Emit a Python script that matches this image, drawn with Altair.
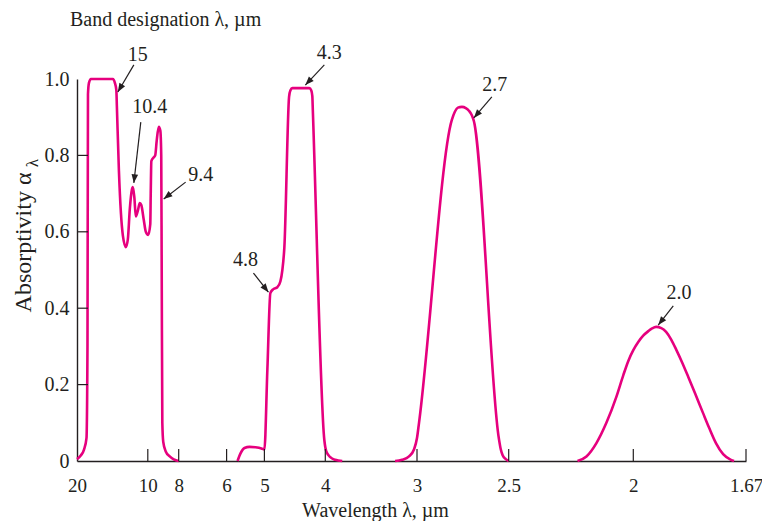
import altair as alt
import pandas as pd

# ---- axis ticks (wavelength in micrometres) ----
tick_wl = [20, 10, 8, 6, 5, 4, 3, 2.5, 2, 1.67]
tick_pos = [0, 70.8, 101.7, 149.6, 187.4, 248.3, 340, 431.7, 556.3, 669]   # scale range breakpoints
x_minor = [10, 8, 6, 5, 4, 3, 2.5, 2, 1.67]
y_vals = [0, 0.2, 0.4, 0.6, 0.8, 1.0]
y_minor = [0.2, 0.4, 0.6, 0.8]

# ---- absorption bands (wavelength um, absorptivity) ----
band15_wl = [20, 19.44, 19.01, 18.66, 18.52, 18.45, 18.31, 18.03, 14.93, 14.65, 14.44, 14.37,
             14.08, 13.80, 13.52, 13.10, 12.82, 12.54, 12.25, 12.11, 11.90, 11.69, 11.41, 11.13,
             10.92, 10.56, 10.28, 9.97, 9.84, 9.81, 9.77, 9.61, 9.52, 9.42, 9.29, 9.19,
             9.13, 9.10, 9.06, 9.00, 8.84, 8.58, 8.32, 8.0]
band15_a = [0.005, 0.015, 0.03, 0.06, 0.3, 0.96, 0.99, 1.0, 1.0, 0.99, 0.97, 0.93,
            0.76, 0.65, 0.59, 0.56, 0.58, 0.66, 0.71, 0.717, 0.69, 0.64, 0.655, 0.675,
            0.67, 0.63, 0.60, 0.592, 0.62, 0.70, 0.785, 0.795, 0.80, 0.84, 0.875, 0.865,
            0.80, 0.5, 0.1, 0.05, 0.025, 0.012, 0.004, 0.0]

band43_wl = [5.711, 5.632, 5.526, 5.395, 5.237, 5.079, 5.0, 4.951, 4.902, 4.852, 4.787, 4.738,
             4.705, 4.672, 4.595, 4.574, 4.541, 4.262, 4.230, 4.213, 4.205, 4.016, 3.989, 3.946,
             3.891, 3.815]
band43_a = [0.0, 0.02, 0.034, 0.037, 0.036, 0.033, 0.03, 0.24, 0.44, 0.45, 0.455, 0.47,
            0.50, 0.56, 0.953, 0.97, 0.976, 0.976, 0.97, 0.955, 0.919, 0.055, 0.025, 0.01,
            0.003, 0.0]

band27_wl = [3.239, 3.163, 3.087, 3.033, 3.0, 2.989, 2.810, 2.793, 2.777, 2.755, 2.734, 2.717,
             2.701, 2.690, 2.554, 2.543, 2.533, 2.516, 2.5]
band27_a = [0.0, 0.003, 0.012, 0.03, 0.06, 0.10, 0.893, 0.915, 0.925, 0.927, 0.924, 0.917,
            0.905, 0.89, 0.06, 0.03, 0.015, 0.005, 0.0]

band20_wl = [2.224, 2.188, 2.148, 2.108, 2.068, 2.04, 2.02, 2.0, 1.985, 1.971, 1.956, 1.945,
             1.933, 1.918, 1.904, 1.889, 1.874, 1.857, 1.839, 1.816, 1.796, 1.778, 1.758, 1.737,
             1.714, 1.705]
band20_a = [0.0, 0.012, 0.047, 0.1, 0.168, 0.225, 0.262, 0.29, 0.312, 0.328, 0.340, 0.347,
            0.351, 0.348, 0.338, 0.318, 0.291, 0.258, 0.22, 0.17, 0.126, 0.087, 0.047, 0.018,
            0.003, 0.0]

# ---- band designation annotations ----
ann_label = ["15", "10.4", "9.4", "4.8", "4.3", "2.7", "2.0"]
ann_wl = [11.41, 9.87, 7.08, 5.50, 3.957, 2.576, 1.866]
ann_a = [1.063, 0.927, 0.749, 0.526, 1.068, 0.984, 0.44]
arr_from_wl = [11.97, 10.99, 7.71, 5.29, 4.016, 2.592, 1.883]
arr_from_a = [1.037, 0.887, 0.730, 0.492, 1.037, 0.953, 0.406]
arr_to_wl = [14.23, 11.97, 8.97, 4.934, 4.328, 2.690, 1.927]
arr_to_a = [0.966, 0.728, 0.686, 0.442, 0.984, 0.898, 0.356]
arr_angle = [210.6, 186.5, 232.3, 141.7, 223.5, 220.6, 218.3]

FONT = "Liberation Serif"
INK = "#231f20"
MAGENTA = "#E6007E"
FS = 20

rows = []
for name, wl, a in [("15", band15_wl, band15_a), ("4.3", band43_wl, band43_a),
                    ("2.7", band27_wl, band27_a), ("2.0", band20_wl, band20_a)]:
    for i, (w, v) in enumerate(zip(wl, a)):
        rows.append({"band": name, "i": i, "wl": w, "a": v})
curves = pd.DataFrame(rows)

ann = pd.DataFrame({"label": ann_label, "lw": ann_wl, "la": ann_a,
                    "fw": arr_from_wl, "fa": arr_from_a,
                    "tw": arr_to_wl, "ta": arr_to_a, "ang": arr_angle})

xscale = alt.Scale(domain=tick_wl, range=tick_pos)
yscale = alt.Scale(domain=[0, 1])

xaxis = alt.Axis(values=tick_wl, labelExpr="toString(datum.value)", ticks=False,
                 grid=False, labelFlush=False, labelOverlap=False, labelPadding=15,
                 labelFontSize=19,
                 title="Wavelength λ, µm", titleX=298, titleY=55, titleAlign="center",
                 titleBaseline="alphabetic")
yaxis = alt.Axis(values=y_vals,
                 labelExpr="datum.value == 0 ? '0' : format(datum.value, '.1f')",
                 ticks=False, grid=False, labelFlush=False, labelOverlap=False, labelPadding=8,
                 title="Absorptivity α", titleAngle=270, titleX=-47, titleY=163,
                 titleAlign="center", titleBaseline="alphabetic", titleFontSize=24)

lines = alt.Chart(curves).mark_line(color=MAGENTA, strokeWidth=2.6, interpolate="monotone").encode(
    x=alt.X("wl:Q", scale=xscale, axis=xaxis),
    y=alt.Y("a:Q", scale=yscale, axis=yaxis),
    detail="band:N",
    order="i:Q",
)

xt = alt.Chart(pd.DataFrame({"wl": x_minor})).mark_rule(color=INK, strokeWidth=1.2).encode(
    x=alt.X("wl:Q", scale=xscale), y=alt.value(382), y2=alt.value(370))
yt = alt.Chart(pd.DataFrame({"a": y_minor})).mark_rule(color=INK, strokeWidth=1.2).encode(
    y=alt.Y("a:Q", scale=yscale), x=alt.value(0), x2=alt.value(11))

arrows = alt.Chart(ann).mark_rule(color=INK, strokeWidth=1.2).encode(
    x=alt.X("fw:Q", scale=xscale), y=alt.Y("fa:Q", scale=yscale),
    x2="tw:Q", y2="ta:Q")
heads = alt.Chart(ann).mark_point(shape="M0,0L-0.38,1L0.38,1Z", filled=True, color=INK,
                                  opacity=1, size=300).encode(
    x=alt.X("tw:Q", scale=xscale), y=alt.Y("ta:Q", scale=yscale),
    angle=alt.Angle("ang:Q", scale=None))
labels = alt.Chart(ann).mark_text(font=FONT, fontSize=FS, color=INK, align="center",
                                  baseline="middle").encode(
    x=alt.X("lw:Q", scale=xscale), y=alt.Y("la:Q", scale=yscale), text="label:N")

sub = alt.Chart(pd.DataFrame({"t": ["λ"]})).mark_text(
    font=FONT, fontSize=17, color=INK, angle=270, align="center", baseline="alphabetic"
).encode(text="t:N", x=alt.value(-39), y=alt.value(84))

top_title = alt.Chart(pd.DataFrame({"t": ["Band designation λ, µm"]})).mark_text(
    font=FONT, fontSize=FS, color=INK, align="left", baseline="alphabetic"
).encode(text="t:N", x=alt.value(-7), y=alt.value(-53))

chart = alt.layer(lines, xt, yt, arrows, heads, labels, sub, top_title).properties(
    width=669, height=382,
    autosize=alt.AutoSizeParams(type="none"),
    padding={"left": 69, "top": 71, "right": 16, "bottom": 60},
).configure_view(stroke=None).configure_axis(
    domainColor=INK, domainWidth=1.4, labelFont=FONT, labelFontSize=FS, labelColor=INK,
    titleFont=FONT, titleFontSize=FS, titleFontWeight="normal", titleColor=INK,
)

chart.save("out.html", embed_options={"renderer": "svg", "actions": False})
